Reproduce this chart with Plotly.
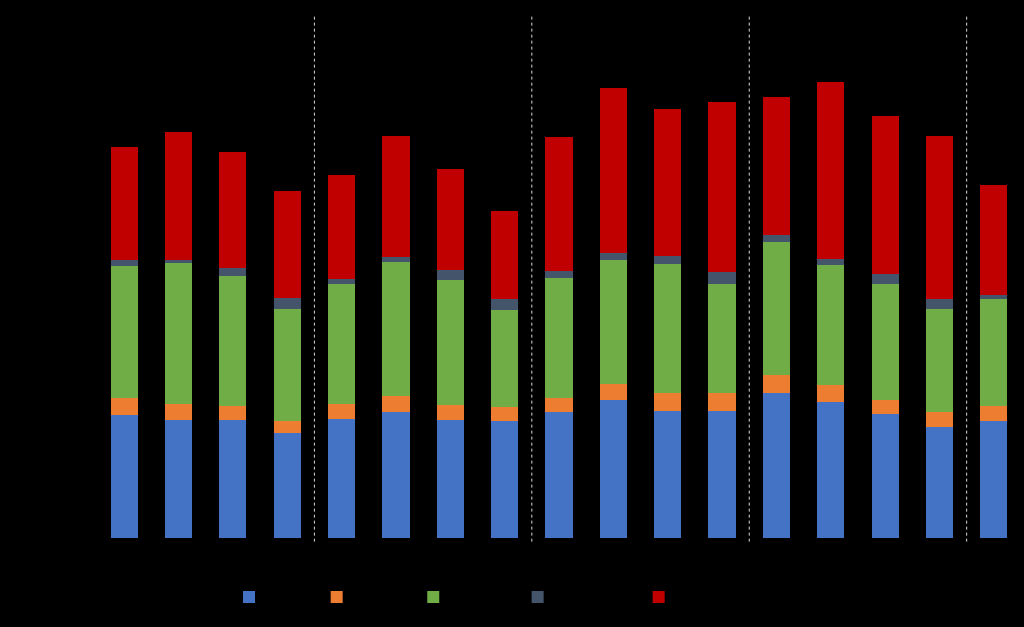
import plotly.graph_objects as go

# quarters on the x axis (labels are black on black in the original)
quarters = ["Q1 2015", "Q2 2015", "Q3 2015", "Q4 2015",
            "Q1 2016", "Q2 2016", "Q3 2016", "Q4 2016",
            "Q1 2017", "Q2 2017", "Q3 2017", "Q4 2017",
            "Q1 2018", "Q2 2018", "Q3 2018", "Q4 2018",
            "Q1 2019"]

industry = [123, 118, 118, 105, 119, 126, 118, 117, 126, 138, 127, 127, 145, 136, 124, 111, 117]
transport = [17, 16, 14, 12, 15, 16, 15, 14, 14, 16, 18, 18, 18, 17, 14, 15, 15]
residential = [132, 141, 130, 112, 120, 134, 125, 97, 120, 124, 129, 109, 133, 120, 116, 103, 107]
services = [6, 3, 8, 11, 5, 5, 10, 11, 7, 7, 8, 12, 7, 6, 10, 10, 4]
exports = [113, 128, 116, 107, 104, 121, 101, 88, 134, 165, 147, 170, 138, 177, 158, 163, 110]

series = [
    ("Industry", industry, "#4472C4"),
    ("Transport", transport, "#ED7D31"),
    ("Residential", residential, "#70AD47"),
    ("Service sector", services, "#44546A"),
    ("Electricity exports", exports, "#C00000"),
]

fig = go.Figure()
for name, vals, color in series:
    fig.add_trace(go.Bar(x=quarters, y=vals, name=name, marker=dict(color=color, line=dict(width=0))))

# dashed separators between years
for pos in [3.5, 7.5, 11.5, 15.5]:
    fig.add_shape(type="line", xref="x", yref="paper", x0=pos, x1=pos, y0=-0.007, y1=1,
                  line=dict(color="#D9D9D9", width=1, dash="3px,3px"))

fig.update_layout(
    barmode="stack",
    bargap=0.5,
    width=1024, height=627,
    margin=dict(l=97, r=3, t=16, b=89),
    paper_bgcolor="black",
    plot_bgcolor="black",
    font=dict(family="Liberation Sans, Arial", size=12, color="black"),
    xaxis=dict(showgrid=False, zeroline=False, showline=False, tickfont=dict(color="black")),
    yaxis=dict(range=[0, 522], showgrid=False, zeroline=False, showline=False,
               tickfont=dict(color="black")),
    legend=dict(orientation="h", traceorder="normal", xref="container", yref="container",
                x=229 / 1024, y=1 - 597 / 627, xanchor="left", yanchor="middle",
                font=dict(color="black"), bgcolor="rgba(0,0,0,0)"),
)

# drop the default page margin so the chart fills the window
fig.write_html("out.html", config={"displayModeBar": False},
               post_script="document.body.style.margin='0';document.body.style.background='black';")
